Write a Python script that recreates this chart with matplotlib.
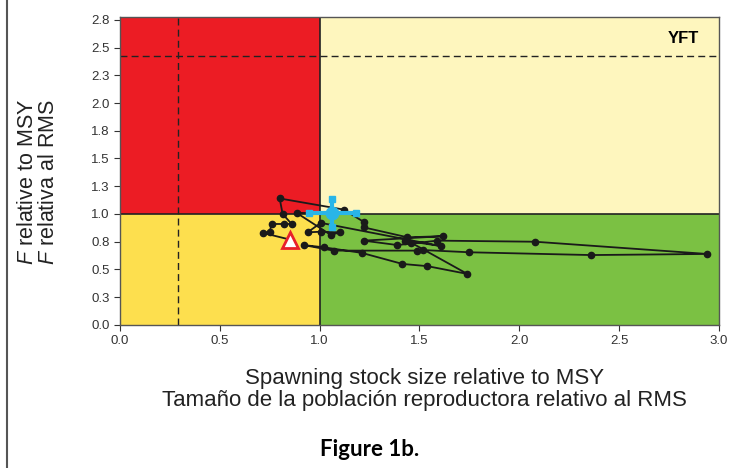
import matplotlib
matplotlib.use("Agg")
import matplotlib.pyplot as plt
from matplotlib.lines import Line2D

plt.rcParams["font.family"] = ["Liberation Sans", "DejaVu Sans"]
plt.rcParams["mathtext.fontset"] = "custom"
plt.rcParams["mathtext.it"] = "Liberation Sans:italic"
plt.rcParams["mathtext.rm"] = "Liberation Sans"

# trajectory of stock status (S/S_msy, F/F_msy)
ssb_rel = [0.85, 0.715, 0.75, 0.76, 0.82, 0.86, 0.815, 0.80, 1.12, 1.22,
           1.22, 1.44, 1.62, 1.22, 1.39, 1.59, 2.08, 2.94, 2.36, 1.75,
           1.52, 1.49, 1.07, 0.92, 1.02, 1.21, 1.415, 1.54, 1.74, 1.46,
           1.43, 1.61, 1.006, 0.94, 1.006, 1.10, 1.057, 0.885, 1.06]
f_rel = [0.77, 0.83, 0.84, 0.91, 0.91, 0.91, 1.00, 1.14, 1.04, 0.93,
         0.88, 0.79, 0.80, 0.76, 0.72, 0.76, 0.75, 0.64, 0.63, 0.655,
         0.675, 0.67, 0.67, 0.72, 0.70, 0.65, 0.55, 0.53, 0.46, 0.74,
         0.76, 0.71, 0.92, 0.835, 0.84, 0.835, 0.81, 1.01, 1.006]

# latest estimate with confidence limits
last_ssb, last_f = 1.06, 1.006
ssb_ci = (0.946, 1.18)
f_ci = (0.885, 1.135)

s_limit = 0.29
f_limit = 2.42

y_ticks = [0, 0.25, 0.5, 0.75, 1.0, 1.25, 1.5, 1.75, 2.0, 2.25, 2.5, 2.75]
y_labels = ["0.0", "0.3", "0.5", "0.8", "1.0", "1.3", "1.5", "1.8", "2.0", "2.3", "2.5", "2.8"]
x_ticks = [0, 0.5, 1.0, 1.5, 2.0, 2.5, 3.0]
x_labels = ["0.0", "0.5", "1.0", "1.5", "2.0", "2.5", "3.0"]

fig = plt.figure(figsize=(7.31, 4.68), dpi=100)
ax = fig.add_axes([0.164, 0.3056, 0.8196, 0.6581])

xmax, ymax = 3.0, 2.775
ax.axvspan(0, 1, ymin=1 / ymax, ymax=1, color="#EC1C24", lw=0)
ax.axvspan(1, xmax, ymin=1 / ymax, ymax=1, color="#FEF6BE", lw=0)
ax.axvspan(0, 1, ymin=0, ymax=1 / ymax, color="#FDDF4E", lw=0)
ax.axvspan(1, xmax, ymin=0, ymax=1 / ymax, color="#7BC143", lw=0)
ax.axvline(1, color="#222222", lw=1.2)
ax.axhline(1, color="#222222", lw=1.2)
ax.axvline(s_limit, color="#222222", lw=1, ls=(0, (5, 3)))
ax.axhline(f_limit, color="#222222", lw=1, ls=(0, (5, 3)))

ax.plot(ssb_rel, f_rel, "-o", color="#1a1a1a", lw=1.3, ms=4.5, zorder=3)
ax.plot(ssb_rel[0], f_rel[0], "^", ms=11, mfc="white", mec="#E8202A", mew=2, zorder=4)

blue = "#29B5E8"
ax.plot(ssb_ci, [last_f, last_f], color=blue, lw=3, zorder=5)
ax.plot([last_ssb, last_ssb], f_ci, color=blue, lw=3, zorder=5)
ax.plot(ssb_ci, [last_f, last_f], "s", color=blue, ms=5, ls="none", zorder=5)
ax.plot([last_ssb, last_ssb], f_ci, "s", color=blue, ms=5, ls="none", zorder=5)
ax.plot(last_ssb, last_f, "o", color=blue, ms=9, zorder=6)

ax.text(2.9, 2.58, "YFT", ha="right", va="center", fontsize=12, fontweight="bold")

ax.set_xlim(0, xmax)
ax.set_ylim(0, ymax)
ax.set_xticks(x_ticks, x_labels)
ax.set_yticks(y_ticks, y_labels)
ax.tick_params(direction="out", length=4, labelsize=9.5, colors="#333333")
for sp in ax.spines.values():
    sp.set_color("#555555")
    sp.set_linewidth(1)

fig.text(0.052, 0.611, "$F$ relative to MSY\n$F$ relativa al RMS", rotation=90,
         ha="center", va="center", fontsize=15.5, color="#222222", linespacing=0.95)
fig.text(0.581, 0.167, "Spawning stock size relative to MSY\nTamaño de la población reproductora relativo al RMS",
         ha="center", va="center", fontsize=16, color="#222222", linespacing=1.05)
fig.text(0.505, 0.04, "Figure 1b.", ha="center", va="center", fontsize=16,
         fontweight="bold", family=["Lato", "DejaVu Sans"])

fig.add_artist(Line2D([0.009, 0.009], [0, 1], transform=fig.transFigure, color="#555555", lw=1.5))

fig.savefig("out.png", dpi=100)
